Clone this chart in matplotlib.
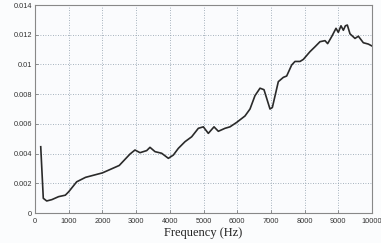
import matplotlib
matplotlib.use("Agg")
import matplotlib.pyplot as plt

freq = [170, 246, 347, 500, 700, 900, 1000, 1237, 1500, 2000, 2500, 2820, 2967, 3116,
        3314, 3412, 3561, 3759, 3957, 4105, 4253, 4451, 4649, 4847, 4995, 5143, 5312,
        5440, 5638, 5786, 5985, 6231, 6380, 6528, 6677, 6795, 6973, 7043, 7220, 7369,
        7468, 7616, 7715, 7864, 7963, 8160, 8309, 8457, 8605, 8684, 8803, 8932, 9000,
        9080, 9150, 9210, 9268, 9347, 9496, 9595, 9743, 9891, 10000]
amp = [0.00446, 0.00099, 0.00081, 0.00090, 0.00110, 0.00120, 0.00143, 0.00210, 0.00240,
       0.00270, 0.00320, 0.00397, 0.00424, 0.00406, 0.00420, 0.00442, 0.00413, 0.00402,
       0.00368, 0.00390, 0.00435, 0.00480, 0.00513, 0.00570, 0.00580, 0.00536, 0.00580,
       0.00550, 0.00570, 0.00580, 0.00610, 0.00653, 0.00700, 0.00790, 0.00840, 0.00830,
       0.00700, 0.00710, 0.00884, 0.00913, 0.00922, 0.00996, 0.01020, 0.01020, 0.01034,
       0.01086, 0.01119, 0.01153, 0.01160, 0.01140, 0.01187, 0.01243, 0.01216, 0.01260,
       0.01230, 0.01260, 0.01265, 0.01206, 0.01175, 0.01190, 0.01146, 0.01137, 0.01124]

xticks = [0, 1000, 2000, 3000, 4000, 5000, 6000, 7000, 8000, 9000, 10000]
yticks = [0, 0.002, 0.004, 0.006, 0.008, 0.01, 0.012, 0.014]
ytick_labels = ["0", "0.002", "0.004", "0.006", "0.008", "0.01", "0.012", "0.014"]

fig = plt.figure(figsize=(3.81, 2.43), dpi=100)
fig.patch.set_facecolor("#fbfcfd")
ax = fig.add_axes([35/381, 1-213/243, (372-35)/381, (213-5)/243])
ax.set_facecolor("#fafbfd")
ax.plot(freq, amp, color="#2a2a2a", lw=1.2)
ax.set_xlim(0, 10000)
ax.set_ylim(0, 0.014)
ax.set_xticks(xticks)
ax.set_xticklabels([str(t) for t in xticks], fontsize=5.3, family="Liberation Sans", color="#333")
ax.set_yticks(yticks)
ax.set_yticklabels(ytick_labels, fontsize=5.3, family="Liberation Sans", color="#333")
ax.tick_params(axis="x", direction="in", length=2, width=0.5, color="#666", pad=3.5)
ax.tick_params(axis="y", direction="in", length=2, width=0.5, color="#666", pad=2)
ax.grid(True, linestyle=(0, (1, 2)), color="#8a9aa8", lw=0.6)
for s in ax.spines.values():
    s.set_color("#888")
    s.set_linewidth(0.8)
ax.set_xlabel("Frequency (Hz)", fontsize=9, family="Liberation Serif", color="#222", labelpad=1.5)
fig.savefig("out.png", dpi=100, facecolor=fig.get_facecolor())
